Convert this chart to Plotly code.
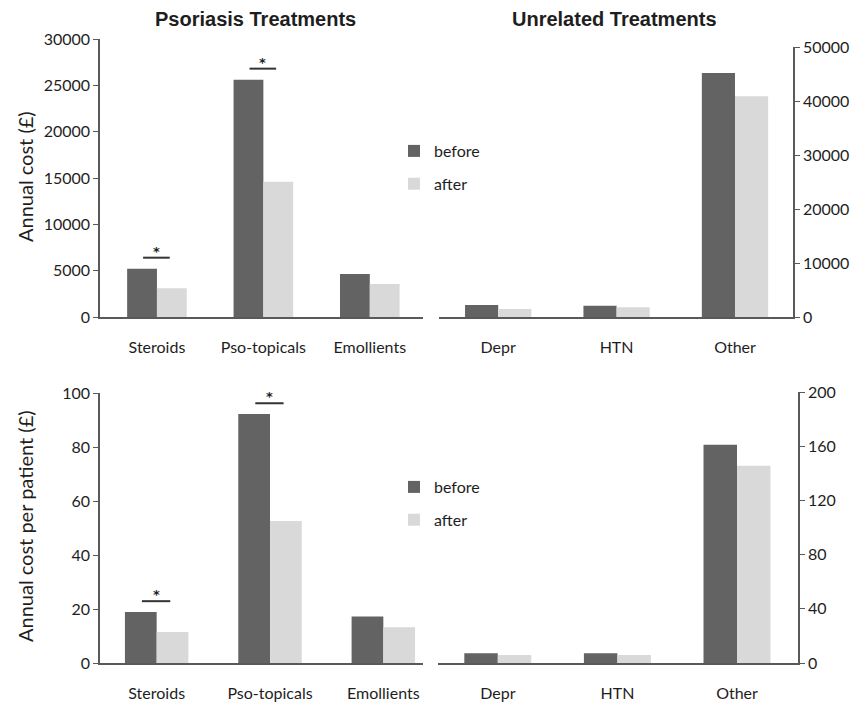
import plotly.graph_objects as go

W, H = 865, 705
OFF = 8  # page body margin in the browser
FW, FH = W - OFF, H - OFF

pso_cats = ["Steroids", "Pso-topicals", "Emollients"]
unr_cats = ["Depr", "HTN", "Other"]

# Annual cost (£)
pso_cost_before = [5200, 25600, 4650]
pso_cost_after = [3100, 14600, 3550]
unr_cost_before = [2200, 2100, 45200]
unr_cost_after = [1500, 1800, 40900]

# Annual cost per patient (£)
pso_pp_before = [18.9, 92.2, 17.2]
pso_pp_after = [11.5, 52.6, 13.2]
unr_pp_before = [7.2, 7.2, 161]
unr_pp_after = [5.9, 5.9, 145.6]

# significant differences (category index within psoriasis panels)
sig_idx = [0, 1]

top_left_ticks = [0, 5000, 10000, 15000, 20000, 25000, 30000]
top_right_ticks = [0, 10000, 20000, 30000, 40000, 50000]
bot_left_ticks = [0, 20, 40, 60, 80, 100]
bot_right_ticks = [0, 40, 80, 120, 160, 200]

C_BEFORE = "#636363"
C_AFTER = "#d9d9d9"
AX = "#595959"
FONT = "Lato"
TXT = "#1e1e1e"

def px_x(p):
    return (p - OFF) / FW

def px_y(p):
    return 1 - (p - OFF) / FH

fig = go.Figure()

panels = [
    ("x", "y", pso_cats, pso_cost_before, pso_cost_after, "legend", True),
    ("x2", "y2", unr_cats, unr_cost_before, unr_cost_after, "legend", False),
    ("x3", "y3", pso_cats, pso_pp_before, pso_pp_after, "legend2", True),
    ("x4", "y4", unr_cats, unr_pp_before, unr_pp_after, "legend2", False),
]

for xa, ya, cats, b, a, leg, show in panels:
    idx = list(range(len(cats)))
    fig.add_trace(go.Bar(x=idx, y=b, name="before", marker_color=C_BEFORE,
                         xaxis=xa, yaxis=ya, legend=leg, showlegend=show,
                         legendgroup="b" + leg, marker_line_width=0))
    fig.add_trace(go.Bar(x=idx, y=a, name="after", marker_color=C_AFTER,
                         xaxis=xa, yaxis=ya, legend=leg, showlegend=show,
                         legendgroup="a" + leg, marker_line_width=0))

def xax(domain, cats, rng, anchor):
    return dict(domain=domain, range=rng, tickvals=list(range(len(cats))),
                ticktext=cats, anchor=anchor, automargin=False,
                showline=True, linecolor=AX, linewidth=1.5,
                ticks="outside", ticklen=15, tickcolor="rgba(0,0,0,0)",
                showgrid=False, zeroline=False, fixedrange=True,
                tickfont=dict(family=FONT, size=16, color=TXT))

def yax(domain, ticks, anchor, side):
    return dict(domain=domain, range=[0, ticks[-1]], tickvals=ticks,
                ticktext=[str(t) for t in ticks],
                anchor=anchor, side=side, automargin=False,
                showline=True, linecolor=AX,
                linewidth=1.5, ticks="outside", ticklen=5, tickcolor=AX,
                showgrid=False, zeroline=False, fixedrange=True,
                tickfont=dict(family=FONT, size=16, color=TXT))

fig.update_layout(
    width=FW, height=FH,
    margin=dict(l=0, r=0, t=0, b=0, pad=0, autoexpand=False),
    paper_bgcolor="white", plot_bgcolor="rgba(0,0,0,0)",
    barmode="group", bargap=0.44, bargroupgap=0,
    font=dict(family=FONT, size=16, color=TXT),
    xaxis=xax([px_x(100), px_x(423)], pso_cats, [-0.535, 2.5], "y"),
    xaxis2=xax([px_x(439), px_x(793)], unr_cats, [-0.5, 2.49], "y2"),
    xaxis3=xax([px_x(100), px_x(423)], pso_cats, [-0.5, 2.35], "y3"),
    xaxis4=xax([px_x(438), px_x(798)], unr_cats, [-0.5, 2.51], "y4"),
    yaxis=yax([px_y(317), px_y(39)], top_left_ticks, "x", "left"),
    yaxis2=yax([px_y(317), px_y(47)], top_right_ticks, "x2", "right"),
    yaxis3=yax([px_y(663), px_y(393)], bot_left_ticks, "x3", "left"),
    yaxis4=yax([px_y(663), px_y(392)], bot_right_ticks, "x4", "right"),
    legend=dict(x=px_x(394), y=px_y(134), xanchor="left", yanchor="top",
                bgcolor="rgba(0,0,0,0)", font=dict(family=FONT, size=16, color=TXT),
                tracegroupgap=9, traceorder="grouped", itemclick=False),
    legend2=dict(x=px_x(394), y=px_y(470), xanchor="left", yanchor="top",
                 bgcolor="rgba(0,0,0,0)", font=dict(family=FONT, size=16, color=TXT),
                 tracegroupgap=9, traceorder="grouped", itemclick=False),
)

# significance markers
for xr, yr, before, after, top in [("x", "y", pso_cost_before, pso_cost_after, top_left_ticks[-1]),
                                   ("x3", "y3", pso_pp_before, pso_pp_after, bot_left_ticks[-1])]:
    for i in sig_idx:
        yl = max(before[i], after[i]) + 0.04 * top
        fig.add_shape(type="line", xref=xr, yref=yr, x0=i - 0.13, x1=i + 0.12,
                      y0=yl, y1=yl, line=dict(color="#333", width=2))
        fig.add_annotation(xref=xr, yref=yr, x=i - 0.005, y=yl, text="<b>*</b>",
                           showarrow=False, yanchor="bottom", yshift=-3,
                           font=dict(family="DejaVu Sans", size=13, color=TXT))

# panel titles
for cx, title in [(256, "Psoriasis Treatments"), (614, "Unrelated Treatments")]:
    fig.add_annotation(xref="paper", yref="paper", x=px_x(cx), y=px_y(19),
                       yanchor="middle", xanchor="center", borderpad=0,
                       text="<b>" + title + "</b>", showarrow=False,
                       font=dict(family="Liberation Sans", size=20, color=TXT))

# y-axis titles
fig.add_annotation(xref="paper", yref="paper", x=px_x(25), y=px_y(177),
                   yanchor="middle", xanchor="center",
                   text="Annual cost (£)", textangle=-90, showarrow=False,
                   font=dict(family=FONT, size=20, color=TXT))
fig.add_annotation(xref="paper", yref="paper", x=px_x(25), y=px_y(526),
                   yanchor="middle", xanchor="center",
                   text="Annual cost per patient (£)", textangle=-90, showarrow=False,
                   font=dict(family=FONT, size=20, color=TXT))

fig.write_html("out.html")
